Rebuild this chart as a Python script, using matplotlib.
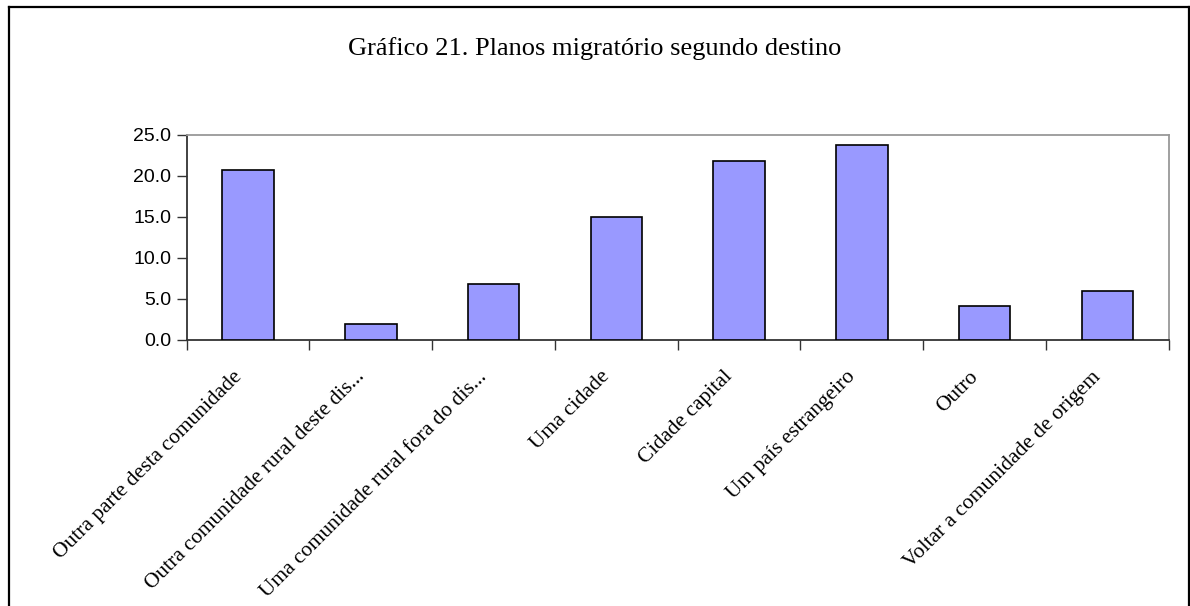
import matplotlib
matplotlib.use("Agg")
import matplotlib.pyplot as plt
from matplotlib.lines import Line2D
from matplotlib.transforms import ScaledTranslation
import numpy as np

title = "Gráfico 21. Planos migratório segundo destino"
categories = [
    "Outra parte desta comunidade",
    "Outra comunidade rural deste dis...",
    "Uma comunidade rural fora do dis...",
    "Uma cidade",
    "Cidade capital",
    "Um país estrangeiro",
    "Outro",
    "Voltar a comunidade de origem",
]
values = [20.7, 1.9, 6.8, 15.0, 21.8, 23.8, 4.1, 6.0]
yticks = [0, 5, 10, 15, 20, 25]

W, H = 1190, 606
fig = plt.figure(figsize=(W / 100, H / 100), dpi=100)
fig.patch.set_facecolor("white")

# outer frame (bottom edge is outside the image)
for xs, ys in [((9, 9), (0, H - 7)), ((9, 1188.5), (H - 7, H - 7)), ((1188.5, 1188.5), (0, H - 7))]:
    fig.add_artist(Line2D([x / W for x in xs], [y / H for y in ys], color="black", lw=1.6,
                          transform=fig.transFigure))

left, right = 186.7, 1168.7
top, bottom = 134.7, 340.0
ax = fig.add_axes([left / W, 1 - bottom / H, (right - left) / W, (bottom - top) / H])

x = np.arange(1, len(values) + 1)
ax.bar(x, values, width=0.42, color="#9999FF", edgecolor="black", linewidth=1.2, zorder=3)

ax.set_xlim(0.5, len(values) + 0.5)
ax.set_ylim(0, 25)
ax.set_yticks(yticks)
ax.set_yticklabels([f"{v:.1f}" for v in yticks], fontsize=14, family="Liberation Sans")
ax.tick_params(axis="y", direction="out", length=7, width=1, color="#333333", pad=4)

ax.set_xticks(np.arange(0.5, len(values) + 1, 1.0))
ax.set_xticklabels([])
ax.tick_params(axis="x", which="major", direction="out", length=7, width=1, color="#333333")

offset = ScaledTranslation(-9 / 100, -34 / 100, fig.dpi_scale_trans)
for xi, lab in zip(x, categories):
    ax.text(xi, 0, lab, transform=ax.get_xaxis_transform() + offset, rotation=45,
            ha="right", va="center", rotation_mode="anchor", fontsize=15.5,
            family="Liberation Serif", clip_on=False)

for s in ["left", "bottom"]:
    ax.spines[s].set_color("#333333")
    ax.spines[s].set_linewidth(1.3)
for s in ["top", "right"]:
    ax.spines[s].set_color("#999999")
    ax.spines[s].set_linewidth(1.3)

fig.text(595 / W, 1 - 49 / H, title, ha="center", va="center", fontsize=19, family="Liberation Serif")

fig.savefig("out.png", dpi=100, facecolor="white")
